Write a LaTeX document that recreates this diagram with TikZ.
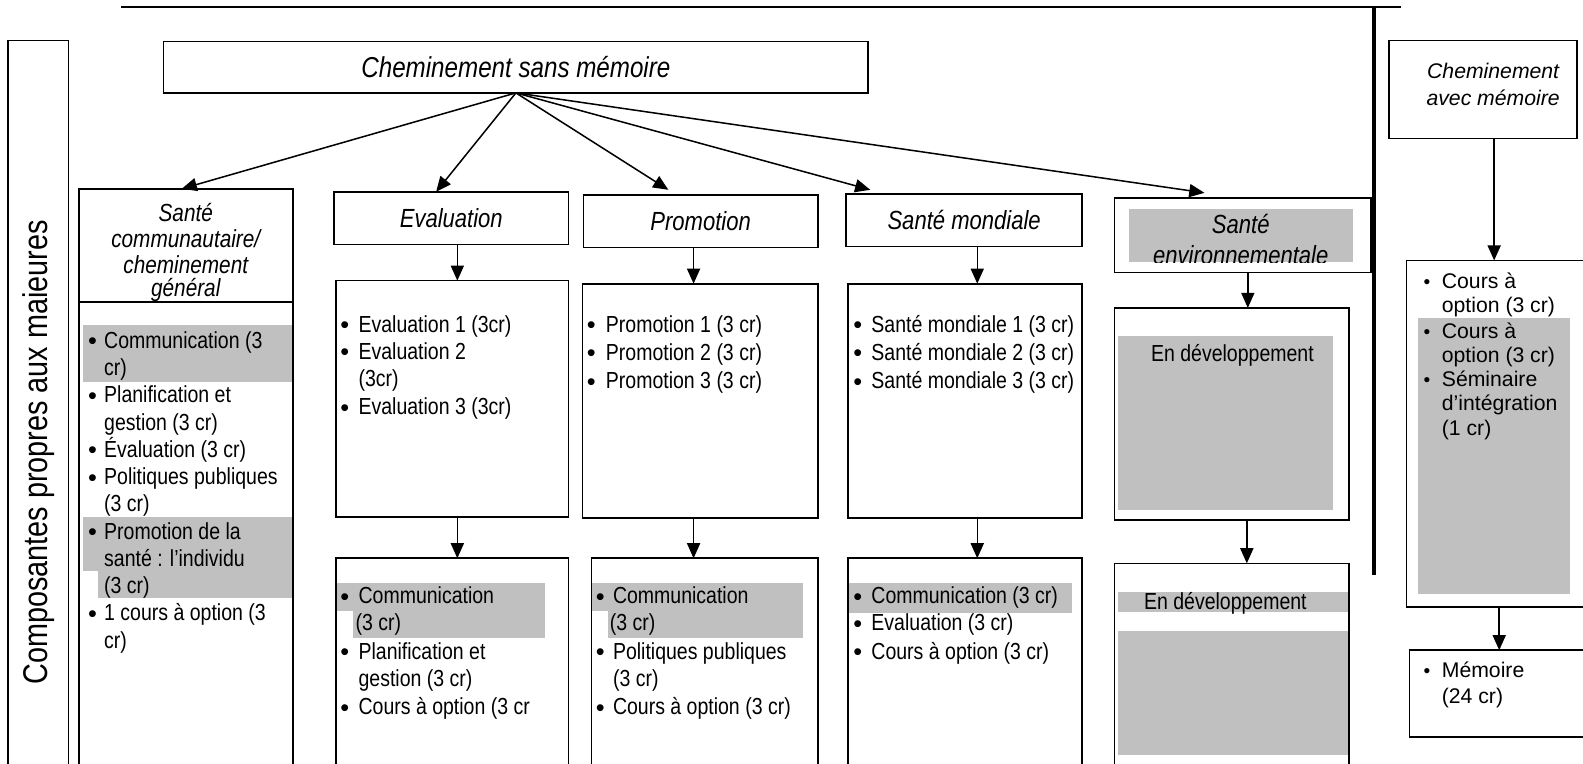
\documentclass[tikz,border=0pt]{standalone}
\usepackage{fontspec}
\setmainfont{Liberation Sans}
\newfontfamily\nar[FakeStretch=0.84]{Liberation Sans}
\usetikzlibrary{arrows.meta}
\definecolor{grayhl}{HTML}{C0C0C0}
\newcounter{tx}
\newcommand\tx[4][body]{\stepcounter{tx}\node[#1] (tx\arabic{tx}) at (#2,#3) {#4};}
\newcommand\bul[3][bul]{\stepcounter{tx}\node[#1] (tx\arabic{tx}) at (#2,#3) {•};}
\newcommand\bx[6][]{\node[box, minimum width={#5-#3}, minimum height={#6-#4}, #1] (#2) at (#3,#4) {};}
\tikzset{
  box/.style={draw, line width=1.6pt, inner sep=0pt, outer sep=0pt, anchor=north west},
  arr/.style={line width=1.5pt, -{Triangle[length=15pt,width=13pt]}},
  body/.style={font=\nar\fontsize{23}{27}\selectfont, inner sep=0pt, anchor=base west},
  bul/.style={font=\fontsize{25}{27}\selectfont, inner sep=0pt, anchor=base west, yshift=-1.5pt},
  rbul/.style={font=\fontsize{19}{22}\selectfont, inner sep=0pt, anchor=base west},
  ttl/.style={font=\nar\itshape\fontsize{26}{30}\selectfont, inner sep=0pt},
  ttlb/.style={font=\nar\itshape\fontsize{24.5}{28}\selectfont, inner sep=0pt, anchor=base},
  rbody/.style={font=\fontsize{21}{24}\selectfont, inner sep=0pt, anchor=base west},
  rttl/.style={font=\itshape\fontsize{21}{25}\selectfont, inner sep=0pt, anchor=base},
  hl/.style={fill=grayhl},
}
\begin{document}
\begin{tikzpicture}[x=1pt,y=-1pt]
\useasboundingbox (0,0) rectangle (1568,756);
% gray highlights
\fill[hl] (82,322) rectangle (291,378);
\fill[hl] (82,512) rectangle (291,566);
\fill[hl] (97,566) rectangle (291,592);
\fill[hl] (333,577) rectangle (540,605);
\fill[hl] (350,605) rectangle (540,632);
\fill[hl] (586,577) rectangle (795,605);
\fill[hl] (602,605) rectangle (795,632);
\fill[hl] (840,577) rectangle (1062,607);
\fill[hl] (1118,207) rectangle (1340,260);
\fill[hl] (1107,333) rectangle (1320,505);
\fill[hl] (1107,586) rectangle (1336,606);
\fill[hl] (1107,625) rectangle (1336,748);
\fill[hl] (1405,315) rectangle (1555,588);
% frame lines
\draw[line width=1.6pt] (120,7) -- (1388,7);
\draw[line width=4.5pt] (1361,7) -- (1361,570);
% left label
\bx{lab}{8}{40}{68}{770}
\node[font=\nar\fontsize{34}{36}\selectfont, rotate=90, inner sep=0pt] (labt) at (38,448) {Composantes propres aux maieures};
% main box
\node[box, ttl, font=\nar\itshape\fontsize{28.5}{32}\selectfont, minimum width=698, minimum height=51] (main) at (162,41) {Cheminement sans mémoire};
% column 1
\bx{sc}{78}{187}{290}{770}
\draw[line width=1.6pt] (sc.west |- 0,299) -- (sc.east |- 0,299);
\tx[ttlb]{184}{219}{Santé}
\tx[ttlb]{184}{245}{communautaire/}
\tx[ttlb]{184}{271}{cheminement}
\tx[ttlb]{184}{294}{général}
\bul{87}{345}\tx{103}{345}{Communication (3}
\tx{103}{372}{cr)}
\bul{87}{399}\tx{103}{399}{Planification et}
\tx{103}{426}{gestion (3 cr)}
\bul{87}{453}\tx{103}{453}{Évaluation (3 cr)}
\bul{87}{480}\tx{103}{480}{Politiques publiques}
\tx{103}{507}{(3 cr)}
\bul{87}{534}\tx{103}{534}{Promotion de la}
\tx{103}{561}{santé : l’individu}
\tx{103}{588}{(3 cr)}
\bul{87}{615}\tx{103}{615}{1 cours à option (3}
\tx{103}{642}{cr)}
% column 2
\node[box, ttl, minimum width=232, minimum height=52] (ev) at (331,190) {Evaluation};
\bx{evb}{333}{278}{563}{512}
\bx{evc}{333}{553}{563}{770}
\bul{337}{329}\tx{355}{329}{Evaluation 1 (3cr)}
\bul{337}{356}\tx{355}{356}{Evaluation 2}
\tx{355}{383}{(3cr)}
\bul{337}{411}\tx{355}{411}{Evaluation 3 (3cr)}
\bul{337}{598}\tx{355}{598}{Communication}
\tx{352}{625}{(3 cr)}
\bul{337}{653}\tx{355}{653}{Planification et}
\tx{355}{680}{gestion (3 cr)}
\bul{337}{708}\tx{355}{708}{Cours à option (3 cr}
% column 3
\node[box, ttl, minimum width=232, minimum height=52] (pr) at (578,193) {Promotion};
\bx{prb}{577}{281}{810}{513}
\bx{prc}{586}{553}{810}{770}
\bul{581}{329}\tx{600}{329}{Promotion 1 (3 cr)}
\bul{581}{357}\tx{600}{357}{Promotion 2 (3 cr)}
\bul{581}{385}\tx{600}{385}{Promotion 3 (3 cr)}
\bul{590}{598}\tx{607}{598}{Communication}
\tx{604}{625}{(3 cr)}
\bul{590}{653}\tx{607}{653}{Politiques publiques}
\tx{607}{680}{(3 cr)}
\bul{590}{708}\tx{607}{708}{Cours à option (3 cr)}
% column 4
\node[box, ttl, minimum width=234, minimum height=52] (sm) at (838,192) {Santé mondiale};
\bx{smb}{840}{281}{1072}{513}
\bx{smc}{840}{553}{1072}{770}
\bul{845}{329}\tx{863}{329}{Santé mondiale 1 (3 cr)}
\bul{845}{357}\tx{863}{357}{Santé mondiale 2 (3 cr)}
\bul{845}{385}\tx{863}{385}{Santé mondiale 3 (3 cr)}
\bul{845}{598}\tx{863}{598}{Communication (3 cr)}
\bul{845}{625}\tx{863}{625}{Evaluation (3 cr)}
\bul{845}{653}\tx{863}{653}{Cours à option (3 cr)}
% column 5
\bx{se}{1104}{196}{1358}{270}
\begin{scope}
\clip (1118,207) rectangle (1340,260);
\node[ttlb, font=\nar\itshape\fontsize{26}{30}\selectfont] (set1) at (1229,231) {Santé};
\node[ttlb, font=\nar\itshape\fontsize{26}{30}\selectfont] (set2) at (1229,262) {environnementale};
\end{scope}
\bx{seb}{1104}{305}{1336}{515}
\bx{sec}{1104}{558}{1336}{770}
\tx{1140}{358}{En développement}
\tx{1133}{604}{En développement}
% right column
\bx{am}{1376}{40}{1562}{137}
\tx[rttl]{1479}{78}{Cheminement}
\tx[rttl]{1479}{104}{avec mémoire}
\bx{amb}{1393}{258}{1575}{601}
\bx{amc}{1396}{644}{1575}{730}
\bul[rbul]{1410}{286}\tx[rbody]{1428}{286}{Cours à}
\tx[rbody]{1428}{310}{option (3 cr)}
\bul[rbul]{1410}{335}\tx[rbody]{1428}{335}{Cours à}
\tx[rbody]{1428}{359}{option (3 cr)}
\bul[rbul]{1410}{383}\tx[rbody]{1428}{383}{Séminaire}
\tx[rbody]{1428}{407}{d’intégration}
\tx[rbody]{1428}{431}{(1 cr)}
\bul[rbul]{1410}{671}\tx[rbody]{1428}{671}{Mémoire}
\tx[rbody]{1428}{697}{(24 cr)}
% arrows from main box
\coordinate (t1) at (180,187);
\coordinate (t2) at (432,190);
\coordinate (t3) at (662,188);
\coordinate (t4) at (862,188);
\coordinate (t5) at (1193,191);
\foreach \t in {t1,t2,t3,t4,t5} \draw[arr] (main.south) -- (\t);
% vertical arrows
\draw[arr] (ev.south -| 453,0) -- (evb.north -| 453,0);
\draw[arr] (evb.south -| 453,0) -- (evc.north -| 453,0);
\draw[arr] (pr.south -| 687,0) -- (prb.north -| 687,0);
\draw[arr] (prb.south -| 687,0) -- (prc.north -| 687,0);
\draw[arr] (sm.south -| 968,0) -- (smb.north -| 968,0);
\draw[arr] (smb.south -| 968,0) -- (smc.north -| 968,0);
\draw[arr] (se.south -| 1236,0) -- (seb.north -| 1236,0);
\draw[arr] (seb.south -| 1235,0) -- (sec.north -| 1235,0);
\draw[arr] (am.south -| 1480,0) -- (amb.north -| 1480,0);
\draw[arr] (amb.south -| 1485,0) -- (amc.north -| 1485,0);
\end{tikzpicture}
\end{document}
